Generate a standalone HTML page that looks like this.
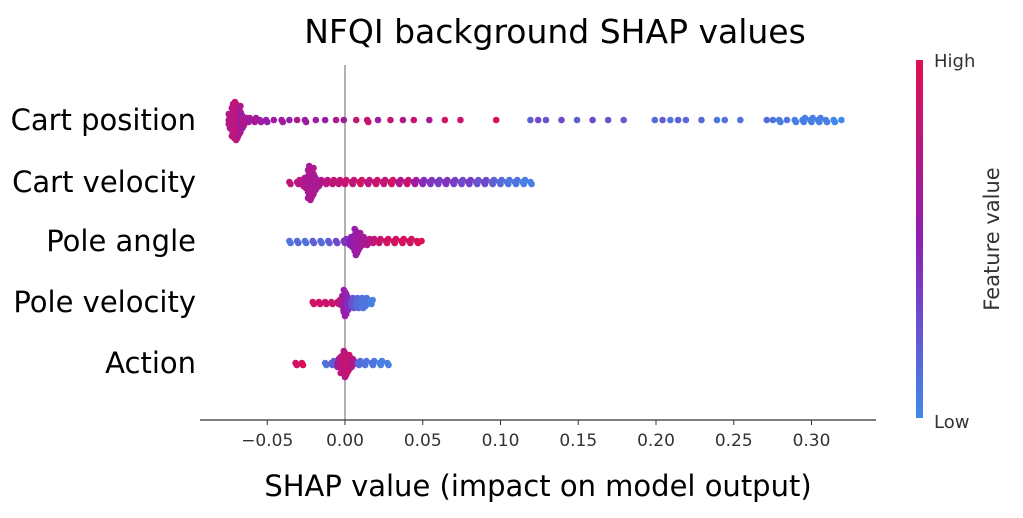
<!DOCTYPE html>
<html><head><meta charset="utf-8"><style>
body{margin:0;background:#fff}
svg{display:block;font-family:"DejaVu Sans","Liberation Sans",sans-serif}
</style></head><body>
<svg id="chart" width="1023" height="518" viewBox="0 0 1023 518" xmlns="http://www.w3.org/2000/svg">
<defs><linearGradient id="cb" x1="0" y1="1" x2="0" y2="0">
<stop offset="0" stop-color="#3f8ae8"/><stop offset="0.5" stop-color="#8f1eb4"/><stop offset="1" stop-color="#e0104f"/></linearGradient></defs>
<text x="555" y="43" font-size="33" text-anchor="middle" fill="#000">NFQI background SHAP values</text>
<line x1="345" y1="65" x2="345" y2="420" stroke="#999" stroke-width="1.5"/>
<g id="dots"></g>
<line x1="200" y1="420" x2="876" y2="420" stroke="#333" stroke-width="1.2"/>
<g id="ticks"></g>
<g id="ylabels"></g>
<text x="538" y="496" font-size="29" text-anchor="middle" fill="#000">SHAP value (impact on model output)</text>
<rect x="916" y="60" width="7" height="358" fill="url(#cb)"/>
<text x="934" y="67" font-size="18" fill="#333">High</text>
<text x="934" y="428" font-size="18" fill="#333">Low</text>
<text x="0" y="0" font-size="21" fill="#333" text-anchor="middle" transform="translate(999,239) rotate(-90)">Feature value</text>
</svg>
<script>
const features = ["Cart position","Cart velocity","Pole angle","Pole velocity","Action"];
const tickValues = [-0.05,0,0.05,0.1,0.15,0.2,0.25,0.3];
const tickLabels = ["\u22120.05","0.00","0.05","0.10","0.15","0.20","0.25","0.30"];
// entries: [shap value, count, feature value 0..1]
const cartPosition = [[-0.074,8,0.7],[-0.072,18,0.75],[-0.070,20,0.8],[-0.068,16,0.7],[-0.066,8,0.6],[-0.064,4,0.75],[-0.062,3,0.6],[-0.058,3,0.65],[-0.054,2,0.6],[-0.05,2,0.55],[-0.045,1,0.6],[-0.04,2,0.6],[-0.035,1,0.55],[-0.03,1,0.7],[-0.025,2,0.6],[-0.018,1,0.6],[-0.012,1,0.55],[-0.005,1,0.7],[0.0,1,0.6],[0.008,1,0.8],[0.015,2,0.85],[0.022,1,0.6],[0.03,1,0.8],[0.038,1,0.7],[0.045,1,0.85],[0.055,1,0.65],[0.065,1,0.9],[0.075,1,0.85],[0.098,1,0.95],[0.12,1,0.2],[0.125,1,0.3],[0.13,1,0.25],[0.14,1,0.3],[0.15,1,0.2],[0.16,1,0.3],[0.17,1,0.25],[0.18,1,0.2],[0.2,1,0.15],[0.205,1,0.2],[0.21,1,0.1],[0.215,1,0.2],[0.22,1,0.15],[0.23,1,0.15],[0.24,1,0.1],[0.245,1,0.1],[0.255,1,0.1],[0.272,1,0.15],[0.276,1,0.1],[0.28,2,0.05],[0.285,1,0.1],[0.29,2,0.05],[0.295,3,0.05],[0.3,3,0.05],[0.305,3,0.05],[0.31,2,0.05],[0.315,2,0.0],[0.32,1,0.0]];
const cartVelocity = [[-0.035,2,0.8],[-0.03,3,0.75],[-0.026,6,0.7],[-0.023,18,0.65],[-0.021,16,0.7],[-0.019,8,0.65],[-0.016,4,0.7],[-0.012,3,0.75],[-0.008,3,0.8],[-0.004,3,0.8],[0.0,3,0.85],[0.005,3,0.8],[0.01,3,0.9],[0.015,3,0.75],[0.02,3,0.85],[0.025,3,0.8],[0.03,3,0.9],[0.035,3,0.7],[0.04,3,0.85],[0.045,3,0.6],[0.05,3,0.45],[0.055,3,0.4],[0.06,3,0.35],[0.065,3,0.4],[0.07,3,0.35],[0.075,3,0.3],[0.08,3,0.35],[0.085,3,0.25],[0.09,3,0.3],[0.095,3,0.2],[0.1,3,0.15],[0.105,3,0.1],[0.11,3,0.1],[0.115,3,0.05],[0.12,2,0.05]];
const poleAngle = [[-0.035,2,0.1],[-0.03,2,0.15],[-0.025,2,0.1],[-0.02,2,0.2],[-0.015,2,0.15],[-0.01,2,0.2],[-0.005,2,0.3],[0.0,3,0.4],[0.004,6,0.5],[0.007,14,0.55],[0.009,10,0.6],[0.012,5,0.65],[0.015,4,0.7],[0.018,3,0.8],[0.022,3,0.85],[0.027,3,0.9],[0.032,3,0.9],[0.037,3,0.95],[0.042,3,0.9],[0.047,2,0.95],[0.05,1,0.95]];
const poleVelocity = [[-0.02,2,0.9],[-0.016,2,0.9],[-0.012,2,0.85],[-0.008,2,0.85],[-0.004,3,0.8],[-0.001,8,0.65],[0.0,14,0.55],[0.002,8,0.45],[0.005,6,0.25],[0.008,6,0.15],[0.011,6,0.1],[0.014,5,0.1],[0.017,3,0.05]];
const action = [[-0.031,2,0.9],[-0.027,2,0.95],[-0.012,2,0.1],[-0.008,3,0.2],[-0.004,5,0.6],[-0.002,10,0.8],[0.0,14,0.75],[0.002,10,0.85],[0.005,5,0.7],[0.009,3,0.15],[0.013,3,0.1],[0.018,3,0.1],[0.023,3,0.05],[0.028,2,0.05]];
const allSeries = [cartPosition,cartVelocity,poleAngle,poleVelocity,action];

const x0=345, pxPerUnit=1555;
function xScale(v){return x0+v*pxPerUnit;}
const rowY=[120,182,241,302,363];
function yScale(i){return rowY[i];}
function color(t){
  const a=[63,138,232],m=[143,30,180],b=[224,16,79];
  let c;
  if(t<0.5){const u=t/0.5;c=a.map((v,k)=>Math.round(v+(m[k]-v)*u));}
  else{const u=(t-0.5)/0.5;c=m.map((v,k)=>Math.round(v+(b[k]-v)*u));}
  return `rgb(${c.join(',')})`;
}
const NS="http://www.w3.org/2000/svg";
const dots=document.getElementById('dots');
allSeries.forEach((series,i)=>{
  const cy=yScale(i);
  series.forEach(([v,n,fv])=>{
    for(let k=0;k<n;k++){
      const off=(k===0?0:(k%2?1:-1)*Math.ceil(k/2))*2;
      const c=document.createElementNS(NS,'circle');
      
      
      c.setAttribute('cx',xScale(v)+((k%3)-1)*1.2);
      c.setAttribute('cy',cy+off);
      c.setAttribute('r',3.3);
      c.setAttribute('fill',color(fv));
      dots.appendChild(c);
    }
  });
});
const tg=document.getElementById('ticks');
tickValues.forEach((t,i)=>{
  const x=xScale(t);
  const l=document.createElementNS(NS,'line');
  
  
  l.setAttribute('x1',x);l.setAttribute('x2',x);l.setAttribute('y1',420);l.setAttribute('y2',425);
  l.setAttribute('stroke','#333');
  tg.appendChild(l);
  const tx=document.createElementNS(NS,'text');
  
  
  tx.setAttribute('x',x);tx.setAttribute('y',446);tx.setAttribute('font-size','17');
  tx.setAttribute('text-anchor','middle');tx.setAttribute('fill','#333');
  tx.textContent=tickLabels[i];
  tg.appendChild(tx);
});
const yl=document.getElementById('ylabels');
features.forEach((f,i)=>{
  const tx=document.createElementNS(NS,'text');
  
  
  tx.setAttribute('x',196);tx.setAttribute('y',yScale(i)+10);tx.setAttribute('font-size','29');
  tx.setAttribute('text-anchor','end');tx.setAttribute('fill','#000');
  tx.textContent=f;
  yl.appendChild(tx);
});
</script>
</body></html>
